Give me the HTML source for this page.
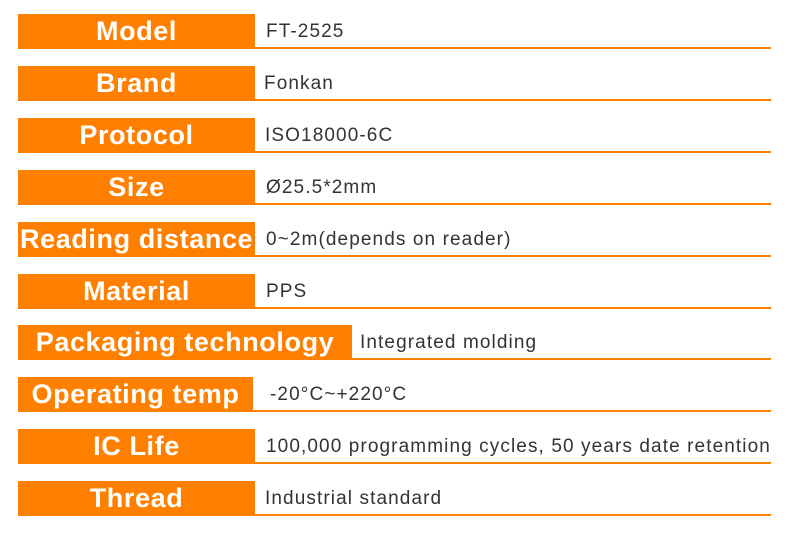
<!DOCTYPE html>
<html><head><meta charset="utf-8"><style>
body{margin:0;width:790px;height:542px;background:#fff;position:relative;overflow:hidden;font-family:"Liberation Sans","Noto Sans CJK SC",sans-serif}
.b{position:absolute;left:18px;height:35px;background:#ff8000;color:#fff;font-weight:bold;font-size:27px;line-height:35px;text-align:center;white-space:nowrap;letter-spacing:0.6px}
.l{position:absolute;height:2px;background:#ff8000;right:19px}
.v{position:absolute;font-size:19px;color:#333;line-height:35px;white-space:nowrap;letter-spacing:1.1px}
</style></head><body>
<div class="b" style="top:14px;width:237px">Model</div><div class="l" style="top:47px;left:255px"></div><div class="v" style="top:14px;left:266px">FT-2525</div>
<div class="b" style="top:66px;width:237px">Brand</div><div class="l" style="top:99px;left:255px"></div><div class="v" style="top:66px;left:264px">Fonkan</div>
<div class="b" style="top:118px;width:237px">Protocol</div><div class="l" style="top:151px;left:255px"></div><div class="v" style="top:118px;left:265px">ISO18000-6C</div>
<div class="b" style="top:170px;width:237px">Size</div><div class="l" style="top:203px;left:255px"></div><div class="v" style="top:170px;left:266px">Ø25.5*2mm</div>
<div class="b" style="top:222px;width:237px;text-align:left;padding-left:2px;box-sizing:border-box">Reading distance</div><div class="l" style="top:255px;left:255px"></div><div class="v" style="top:222px;left:266px">0~2m(depends on reader)</div>
<div class="b" style="top:274px;width:237px">Material</div><div class="l" style="top:307px;left:255px"></div><div class="v" style="top:274px;left:266px">PPS</div>
<div class="b" style="top:325px;width:334px">Packaging technology</div><div class="l" style="top:358px;left:352px"></div><div class="v" style="top:325px;left:360px">Integrated molding</div>
<div class="b" style="top:377px;width:235px">Operating temp</div><div class="l" style="top:410px;left:253px"></div><div class="v" style="top:377px;left:270px">-20°C~+220°C</div>
<div class="b" style="top:429px;width:237px">IC Life</div><div class="l" style="top:462px;left:255px"></div><div class="v" style="top:429px;left:266px">100,000 programming cycles, 50 years date retention</div>
<div class="b" style="top:481px;width:237px">Thread</div><div class="l" style="top:514px;left:255px"></div><div class="v" style="top:481px;left:265px">Industrial standard</div>
</body></html>
